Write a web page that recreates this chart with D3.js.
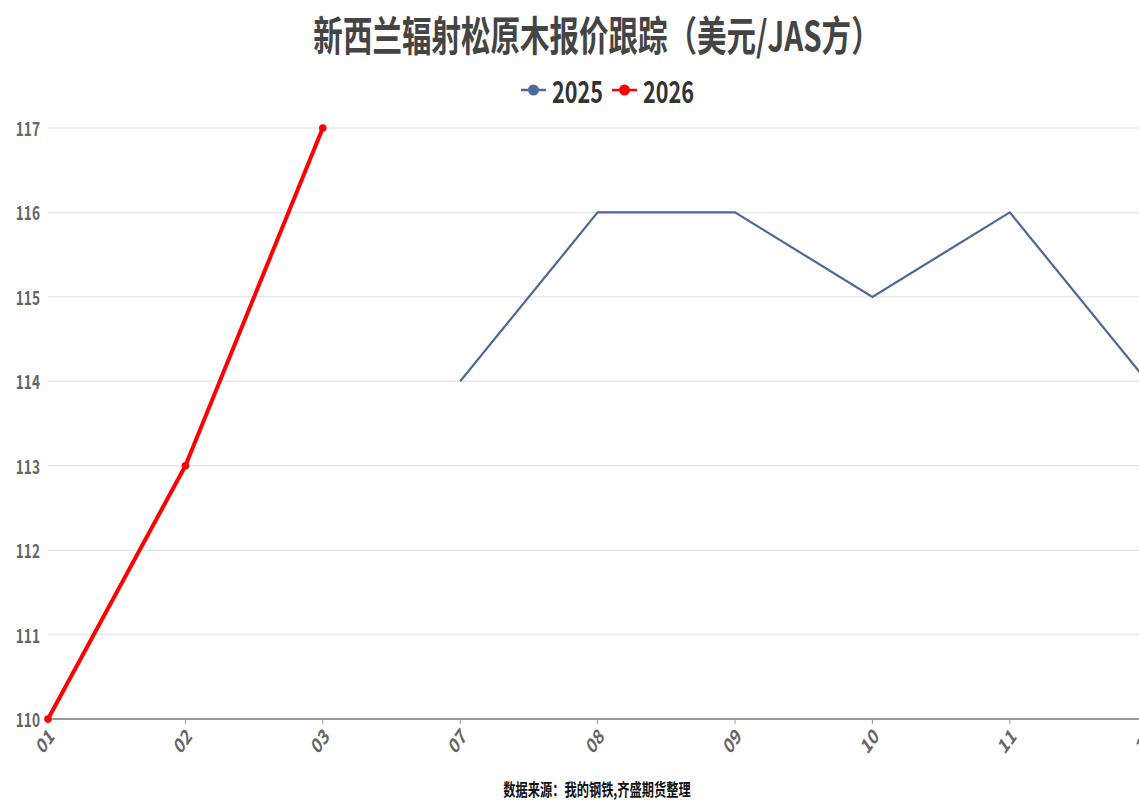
<!DOCTYPE html>
<html>
<head>
<meta charset="utf-8">
<script src="https://cdn.jsdelivr.net/npm/d3@7/dist/d3.min.js"></script>
<style>
  html, body { margin: 0; padding: 0; background: #ffffff; }
  svg { display: block; }
</style>
</head>
<body>
<svg id="chart" width="1139" height="800"></svg>
<script>
// Months shown on the category axis
const months = ["01", "02", "03", "07", "08", "09", "10", "11", "12"];
// Quote series (USD per JAS m³)
const series2025 = [null, null, null, 114, 116, 116, 115, 116, 114];
const series2026 = [110, 113, 117, null, null, null, null, null, null];
const yTicks = [110, 111, 112, 113, 114, 115, 116, 117];

const titleText = "新西兰辐射松原木报价跟踪（美元/JAS方）";
const sourceText = "数据来源：我的钢铁,齐盛期货整理";
const seriesNames = ["2025", "2026"];
const seriesColors = ["#4a6a97", "#ff0000"];

const svg = d3.select("#chart");
const W = 1139, H = 800;
const SX = 0.72; // horizontally condensed lettering
const FONT = "'Noto Sans CJK SC', 'Noto Sans', sans-serif";

const plot = { left: 48, top: 128, bottom: 719 };
const step = 137.4;

const x = d3.scalePoint()
  .domain(months)
  .range([plot.left, plot.left + step * (months.length - 1)]);
const y = d3.scaleLinear()
  .domain([110, 117])
  .range([plot.bottom, plot.top]);

function label(g, tx, ty, text, opts) {
  const t = g.append("text")
    .attr("transform", `translate(${tx},${ty}) scale(${SX},1)` + (opts.rotate ? ` rotate(${opts.rotate})` : ""))
    .attr("font-family", FONT)
    .attr("font-weight", opts.weight || 700)
    .attr("font-size", opts.size)
    .attr("fill", opts.color)
    .attr("text-anchor", opts.anchor || "start")
    .attr("dominant-baseline", opts.baseline || "alphabetic")
    .text(text);
  return t;
}

// Horizontal grid lines
const grid = svg.append("g");
grid.selectAll("line")
  .data(yTicks.filter(d => d !== 110))
  .join("line")
  .attr("x1", plot.left).attr("x2", W)
  .attr("y1", d => y(d)).attr("y2", d => y(d))
  .attr("stroke", "#e6e7ee").attr("stroke-width", 1.5);

// Y axis labels
const yAxis = svg.append("g");
yTicks.forEach(v => {
  label(yAxis, 40, y(v), String(v), { size: 19, color: "#666", anchor: "end", baseline: "central" });
});

// X axis line and ticks
const xAxis = svg.append("g");
xAxis.append("line")
  .attr("x1", plot.left).attr("x2", W)
  .attr("y1", plot.bottom).attr("y2", plot.bottom)
  .attr("stroke", "#777").attr("stroke-width", 1.5);
xAxis.selectAll("line.tick")
  .data(months)
  .join("line")
  .attr("class", "tick")
  .attr("x1", d => x(d)).attr("x2", d => x(d))
  .attr("y1", plot.bottom).attr("y2", plot.bottom + 5)
  .attr("stroke", "#999").attr("stroke-width", 1);
months.forEach(m => {
  label(xAxis, x(m) + 3, plot.bottom + 12, m, { size: 21, color: "#666", anchor: "end", baseline: "central", rotate: -45 });
});

// Series lines
const line = d3.line()
  .defined(d => d.v !== null)
  .x(d => x(d.m))
  .y(d => y(d.v));

const data2025 = months.map((m, i) => ({ m, v: series2025[i] }));
const data2026 = months.map((m, i) => ({ m, v: series2026[i] }));

svg.append("path")
  .datum(data2025)
  .attr("d", line)
  .attr("fill", "none")
  .attr("stroke", seriesColors[0])
  .attr("stroke-width", 2.2);

svg.append("path")
  .datum(data2026)
  .attr("d", line)
  .attr("fill", "none")
  .attr("stroke", seriesColors[1])
  .attr("stroke-width", 4)
  .attr("stroke-linejoin", "round");

svg.append("g").selectAll("circle")
  .data(data2026.filter(d => d.v !== null))
  .join("circle")
  .attr("cx", d => x(d.m))
  .attr("cy", d => y(d.v))
  .attr("r", 3.8)
  .attr("fill", seriesColors[1]);

// Title
label(svg, 597, 51, titleText, { size: 41, color: "#444", anchor: "middle" });

// Legend
const legend = svg.append("g");
const legendItems = [
  { name: seriesNames[0], color: seriesColors[0], x0: 521 },
  { name: seriesNames[1], color: seriesColors[1], x0: 612 }
];
legendItems.forEach(it => {
  legend.append("line")
    .attr("x1", it.x0).attr("x2", it.x0 + 25)
    .attr("y1", 90).attr("y2", 90)
    .attr("stroke", it.color).attr("stroke-width", 2.5);
  legend.append("circle")
    .attr("cx", it.x0 + 12.5).attr("cy", 90).attr("r", 5.5)
    .attr("fill", it.color);
  label(legend, it.x0 + 31, 90, it.name, { size: 30, color: "#333", anchor: "start", baseline: "central", weight: 600 });
});

// Source note
label(svg, 597, 796, sourceText, { size: 17, color: "#111", anchor: "middle" });
</script>
</body>
</html>
